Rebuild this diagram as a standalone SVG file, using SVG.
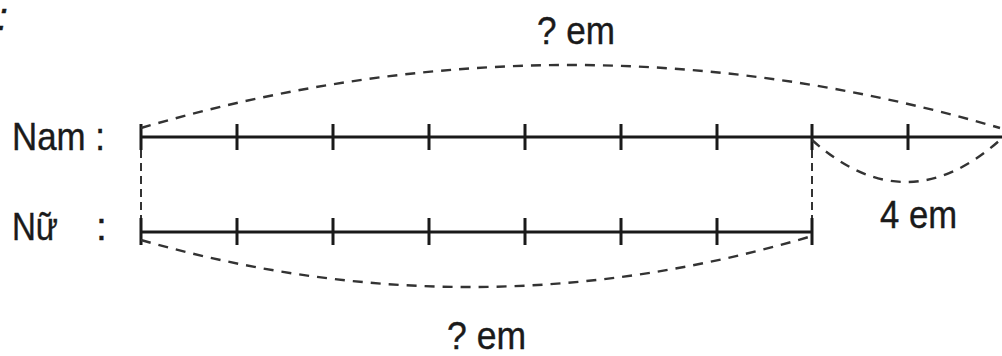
<svg xmlns="http://www.w3.org/2000/svg" width="1002" height="356" viewBox="0 0 1002 356">
<style>
.t{font-family:"Liberation Sans",Arial,sans-serif;fill:#1a1a1a;font-size:39px;stroke:#1a1a1a;stroke-width:0.4}
.solid{stroke:#1a1a1a;stroke-width:3;fill:none}
.dash{stroke:#333;stroke-width:2.4;fill:none;stroke-dasharray:10 8}
.vdash{stroke:#333;stroke-width:2;fill:none;stroke-dasharray:8 5}
</style>
<rect width="1002" height="356" fill="#fff"/>
<text class="t" x="-3" y="30" font-style="italic">:</text>
<g id="label-nam"><text class="t" x="12" y="150" textLength="93" lengthAdjust="spacingAndGlyphs">Nam :</text></g>
<g id="label-nu"><text class="t" x="12" y="240" textLength="46" lengthAdjust="spacingAndGlyphs">Nữ</text><text class="t" x="96" y="240">:</text></g>
<g id="bar-nam">
<line class="solid" x1="141" y1="137" x2="1002" y2="137"/>
<path class="solid" d="M141 124V150M237 124V150M333 124V150M429 124V150M525 124V150M621 124V150M717 124V150M812 124V150M908 124V150"/>
</g>
<g id="bar-nu">
<line class="solid" x1="141" y1="232" x2="812" y2="232"/>
<path class="solid" d="M141 218V245M237 218V245M333 218V245M429 218V245M525 218V245M621 218V245M717 218V245M812 218V245"/>
</g>
<g id="connectors">
<path class="dash" d="M141 128Q570 2 1000 128"/>
<path class="dash" d="M141 240Q476 336 812 236"/>
<path class="dash" d="M812 140Q906 224 1000 140"/>
<path class="vdash" d="M141 150V218M812 150V218"/>
</g>
<g id="label-top"><text class="t" x="537" y="44" textLength="78" lengthAdjust="spacingAndGlyphs">? em</text></g>
<g id="label-4em"><text class="t" x="880" y="228" textLength="77" lengthAdjust="spacingAndGlyphs">4 em</text></g>
<g id="label-bottom"><text class="t" x="447" y="349" textLength="79" lengthAdjust="spacingAndGlyphs">? em</text></g>
</svg>
